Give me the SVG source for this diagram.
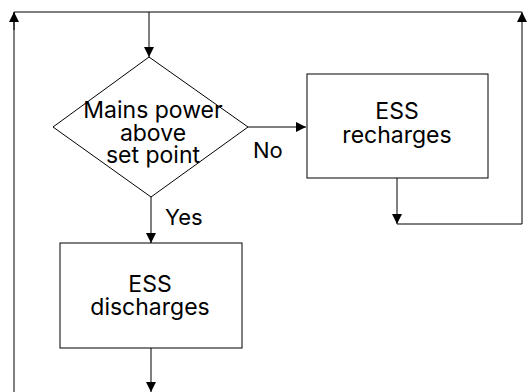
<svg xmlns="http://www.w3.org/2000/svg" width="530" height="392" viewBox="0 0 530 392">
<style>
.shape{fill:#fff;stroke:#000;stroke-width:1}
.edge{fill:none;stroke:#000;stroke-width:1}
text{font-family:Inter,"Liberation Sans",sans-serif;font-size:23px;fill:#000;text-anchor:middle}
.lbl{text-anchor:start;font-size:22px}
</style>
<defs>
<marker id="arr" viewBox="0 0 10 10" refX="10" refY="5" markerWidth="10" markerHeight="10" markerUnits="userSpaceOnUse" orient="auto">
<path d="M0,0 L10,5 L0,10 Z" fill="#000"/>
</marker>
</defs>
<rect width="530" height="392" fill="#fff"/>
<g id="connectors">
<path class="edge" d="M149,12 V57" marker-end="url(#arr)"/>
<path class="edge" d="M14,392 V12 H522" />
<path class="edge" d="M14,30 V12" marker-end="url(#arr)"/>
<path class="edge" d="M248,127 H306" marker-end="url(#arr)"/>
<path class="edge" d="M397,178 V224" marker-end="url(#arr)"/>
<path class="edge" d="M397,224 H522 V12" marker-end="url(#arr)"/>
<path class="edge" d="M151,197 V243" marker-end="url(#arr)"/>
<path class="edge" d="M151,348 V392" marker-end="url(#arr)"/>
<text class="lbl" x="253" y="158">No</text>
<text class="lbl" x="165" y="225">Yes</text>
</g>
<g id="decision">
<polygon class="shape" points="149,57 248,127 151,197 53,127"/>
<text x="153" y="118">Mains power</text>
<text x="153" y="141">above</text>
<text x="153" y="163">set point</text>
</g>
<g id="recharge">
<rect class="shape" x="307" y="74" width="181" height="104"/>
<text x="397" y="119">ESS</text>
<text x="397" y="143">recharges</text>
</g>
<g id="discharge">
<rect class="shape" x="60" y="243" width="182" height="105"/>
<text x="150" y="292">ESS</text>
<text x="150" y="315">discharges</text>
</g>
</svg>
